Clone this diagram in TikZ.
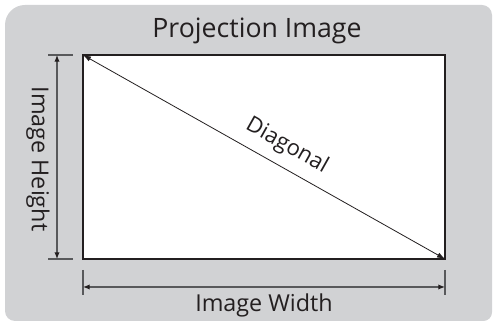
\documentclass[tikz,border=0pt]{standalone}
\usepackage{fontspec}
\setmainfont{Open Sans}
\usetikzlibrary{arrows.meta}
\definecolor{bggray}{HTML}{D1D2D4}
\definecolor{dimgray}{HTML}{58595B}
\definecolor{darkline}{HTML}{231F20}
\tikzset{
  dimline/.style={draw=dimgray, line width=0.9pt},
  dimarrow/.style={dimline, {Latex[length=5pt,width=4pt,color=darkline]}-{Latex[length=5pt,width=4pt,color=darkline]}},
  tick/.style={draw=dimgray, line width=0.9pt},
  lbl/.style={text=darkline, inner sep=0pt}
}
\begin{document}
\begin{tikzpicture}[x=0.75pt,y=-0.75pt]
\useasboundingbox (0,0) rectangle (494,323);
% background
\fill[bggray] (5,170) [rounded corners=15pt] -- (5,5) [rounded corners=7.5pt] -- (492,5)
  [rounded corners=6.5pt] -- (492,321) [rounded corners=7.5pt] -- (5,321) [sharp corners] -- cycle;
% image rectangle
\coordinate (tl) at (83,55);
\coordinate (br) at (445,259);
\fill[white] (tl) rectangle (br);
\draw[darkline, line width=0.9pt] (tl) rectangle (br);
% diagonal
\draw[darkline, line width=0.6pt, {Latex[length=6pt,width=4pt]}-{Latex[length=6pt,width=4pt]}] (tl) -- (br)
  node[lbl, pos=0.535, sloped, above=7pt, font=\fontsize{16.5}{16.5}\selectfont] (diag) {Diagonal};
% height dimension
\coordinate (ht) at (57,55);
\coordinate (hb) at (57,259);
\draw[tick] (48,55) -- (73,55);
\draw[tick] (48,259) -- (73,259);
\draw[dimarrow] (ht) -- (hb);
\node[lbl, font=\fontsize{17.5}{17.5}\selectfont, rotate=-90] (hlabel) at (38,159) {Image Height};
% width dimension
\coordinate (wl) at (83,287);
\coordinate (wr) at (445,287);
\draw[tick] (83,270) -- (83,295);
\draw[tick] (445,270) -- (445,295);
\draw[dimarrow] (wl) -- (wr);
\node[lbl, font=\fontsize{17.5}{17.5}\selectfont] (wlabel) at (264,305) {Image Width};
% title
\node[lbl, font=\fontsize{20}{20}\selectfont] (title) at (257,31) {Projection Image};
\end{tikzpicture}
\end{document}
